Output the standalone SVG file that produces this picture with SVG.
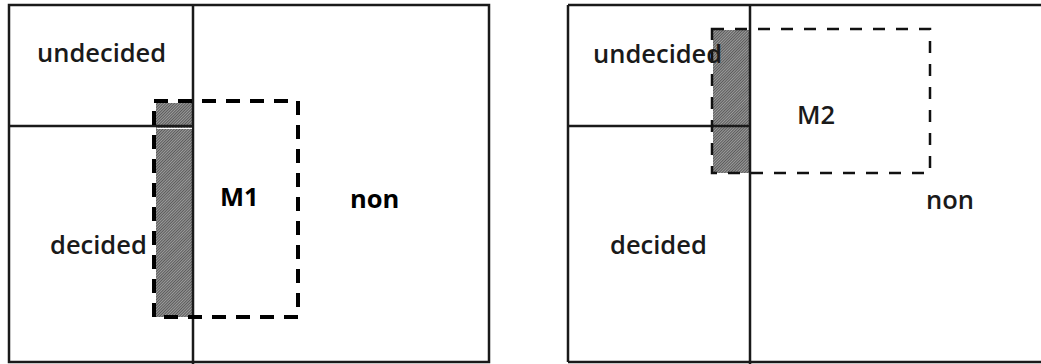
<svg xmlns="http://www.w3.org/2000/svg" width="1041" height="364" viewBox="0 0 1041 364">
<defs>
<pattern id="hatch" width="2" height="2" patternUnits="userSpaceOnUse" patternTransform="rotate(45)">
<rect width="2" height="2" fill="#9c9c9c"/>
<rect width="1" height="2" fill="#5a5a5a"/>
</pattern>
</defs>
<style>
.frame{fill:none;stroke:#1a1a1a;stroke-width:2.5}
.line{stroke:#1a1a1a;stroke-width:2.5;fill:none}
.t{font-family:"Open Sans","DejaVu Sans",sans-serif;font-size:25.5px;font-weight:600;fill:#1a1a1a}
.b{font-weight:bold;fill:#000}
.d1{fill:none;stroke:#000;stroke-width:4;stroke-dasharray:14 10}
.d2{fill:none;stroke:#111;stroke-width:2.5;stroke-dasharray:12 11}
.g{fill:url(#hatch)}
</style>
<g id="panel-left">
<rect class="g" x="156" y="103" width="37" height="214"/>
<rect class="frame" x="9" y="5" width="480" height="357"/>
<line class="line" x1="193" y1="5" x2="193" y2="364"/>
<line class="line" x1="9" y1="126" x2="193" y2="126"/>
<line x1="157" y1="128.5" x2="192" y2="128.5" stroke="#fff" stroke-width="1"/>
<rect id="M1" class="d1" x="154" y="101" width="144" height="216"/>
<text class="t" x="37" y="62">undecided</text>
<text class="t" x="50" y="254">decided</text>
<text class="t b" x="220" y="206">M1</text>
<text class="t b" x="350" y="208">non</text>
</g>
<g id="panel-right">
<rect class="g" x="713" y="30" width="37" height="143"/>
<line class="line" x1="568" y1="5" x2="1041" y2="5"/>
<line class="line" x1="568" y1="5" x2="568" y2="362"/>
<line class="line" x1="568" y1="362" x2="1041" y2="362"/>
<line class="line" x1="750" y1="5" x2="750" y2="364"/>
<line class="line" x1="568" y1="126" x2="750" y2="126"/>
<rect id="M2" class="d2" x="712" y="29" width="218" height="144"/>
<text class="t" x="593" y="63">undecided</text>
<text class="t" x="610" y="254">decided</text>
<text class="t" x="797" y="124">M2</text>
<text class="t" x="926" y="209">non</text>
</g>
<g id="connectors"/>
</svg>
